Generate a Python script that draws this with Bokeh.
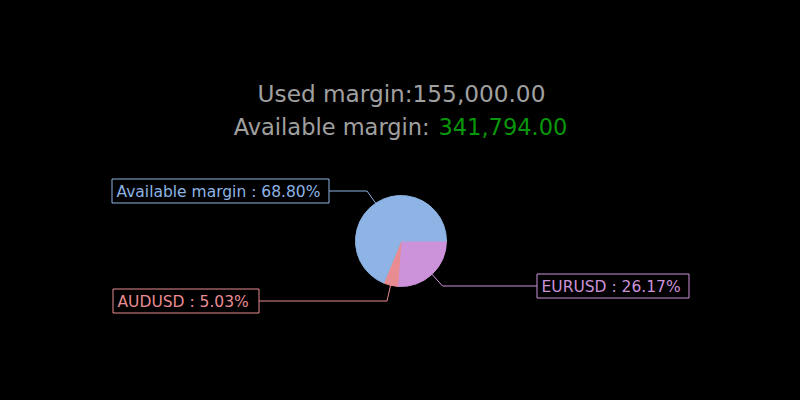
import math
from bokeh.plotting import figure
from bokeh.models import Range1d, ColumnDataSource
from bokeh.core.properties import value
from bokeh.embed import file_html
from bokeh.resources import INLINE

# ---- data ----
labels = ["EURUSD", "AUDUSD", "Available margin"]
percents = [26.17, 5.03, 68.80]
used_margin = 155000.00
available_margin = 341794.00

# ---- styles / layout ----
slice_colors = ["#CC92DA", "#E98C92", "#8DB4E4"]
title_gray = "#A0A0A0"
value_green = "#0A960A"
FONT = "DejaVu Sans"

W, H = 784, 384
# data coords: x = screen x ; y = 400 - screen y
def sy(y):
    return 400 - y

p = figure(width=W, height=H, output_backend="svg", toolbar_location=None,
           x_range=Range1d(0, 784), y_range=Range1d(16, 400),
           background_fill_color="black", border_fill_color="black",
           min_border=0, outline_line_color=None)
p.axis.visible = False
p.grid.visible = False

cx, cy, r = 400.5, 240.5, 45.5

# wedges: start at 3 o'clock, go clockwise
starts, ends, mids = [], [], []
cum = 0.0
for pc in percents:
    a0 = cum / 100 * 2 * math.pi
    cum += pc
    a1 = cum / 100 * 2 * math.pi
    starts.append(-a0)
    ends.append(-a1)
    mids.append((a0 + a1) / 2)

src = ColumnDataSource(dict(start=starts, end=ends, color=slice_colors))
p.wedge(x=cx, y=sy(cy), radius=r, start_angle="start", end_angle="end",
        direction="clock", fill_color="color", line_color="color",
        line_width=1, source=src)

# label layout: horizontal leader length and box size per slice
box_w = {"EURUSD": 152, "AUDUSD": 146, "Available margin": 217}
leader = {"EURUSD": 94, "AUDUSD": 129, "Available margin": 39}
box_h = 24
r_in, r_el = 45, 61

for lab, pc, col, m in zip(labels, percents, slice_colors, mids):
    px0 = cx + r_in * math.cos(m)
    py0 = cy + r_in * math.sin(m)
    ex = cx + r_el * math.cos(m)
    ey = round(cy + r_el * math.sin(m)) + 0.5
    right_side = math.cos(m) > 0
    hx = ex + leader[lab] if right_side else ex - leader[lab]
    hx = round(hx) + 0.5
    p.line(x=[px0, ex, hx], y=[sy(py0), sy(ey), sy(ey)], line_color=col, line_width=1)
    if right_side:
        bl, br = hx, hx + box_w[lab]
    else:
        bl, br = hx - box_w[lab], hx
    bt, bb = ey - box_h / 2, ey + box_h / 2
    p.quad(left=bl, right=br, top=sy(bt), bottom=sy(bb), fill_color=None,
           line_color=col, line_width=1)
    p.text(x=[bl + 4.5], y=[sy(ey + 1)], text=[f"{lab} : {pc:.2f}%"],
           text_color=col, text_font=value(FONT), text_font_size="15.5px",
           text_align="left", text_baseline="alphabetic")

# title texts
p.text(x=[401], y=[sy(93)], text=[f"Used margin:{used_margin:,.2f}"],
       text_color=title_gray, text_font=value(FONT), text_font_size="23.2px",
       text_align="center", text_baseline="alphabetic")

fs = 22.5
part1 = "Available margin: "
part2 = f"{available_margin:,.2f}"
# DejaVu Sans advance widths (units/2048) for centring the two-colour line
adv = {'A': 1401, 'v': 1212, 'a': 1255, 'i': 569, 'l': 569, 'b': 1300, 'e': 1260,
       ' ': 651, 'm': 1995, 'r': 842, 'g': 1300, 'n': 1298, ':': 690, ',': 651, '.': 651}
def tw(s):
    return sum(adv.get(c, 1303) for c in s) / 2048 * fs
w1, w2 = tw(part1), tw(part2)
x0 = 400 - (w1 + w2) / 2
p.text(x=[x0], y=[sy(126)], text=[part1], text_color=title_gray,
       text_font=value(FONT), text_font_size=f"{fs}px",
       text_align="left", text_baseline="alphabetic")
p.text(x=[x0 + w1], y=[sy(126)], text=[part2], text_color=value_green,
       text_font=value(FONT), text_font_size=f"{fs}px",
       text_align="left", text_baseline="alphabetic")

html = file_html(p, INLINE)
html = html.replace("<head>", "<head><style>html,body{background:#000;}</style>", 1)
open("out.html", "w").write(html)
